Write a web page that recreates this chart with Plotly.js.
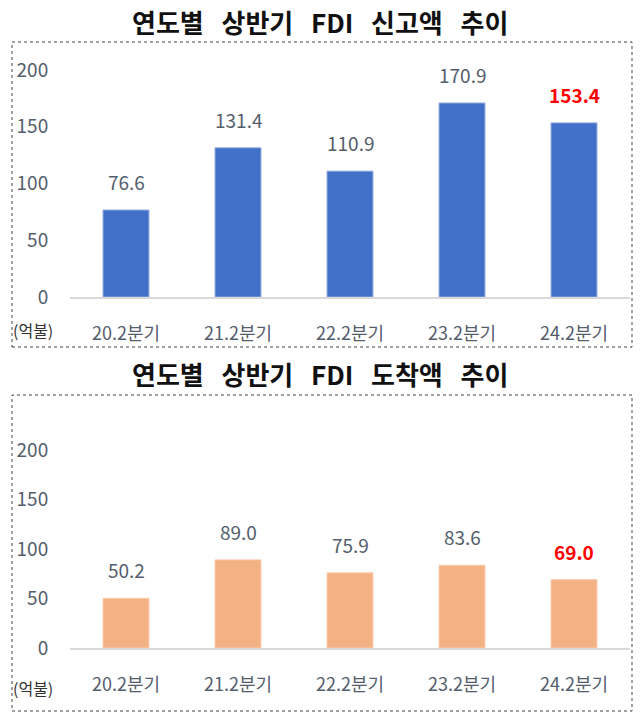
<!DOCTYPE html>
<html>
<head>
<meta charset="utf-8">
<script src="https://cdn.plot.ly/plotly-3.0.1.min.js"></script>
<style>
html,body{margin:0;padding:0;background:#fff;}
#chart{width:641px;height:718px;}
</style>
</head>
<body>
<div id="chart"></div>
<script>
const categories = ["20.2분기", "21.2분기", "22.2분기", "23.2분기", "24.2분기"];
const reportedValues = [76.6, 131.4, 110.9, 170.9, 153.4];
const arrivedValues = [50.2, 89.0, 75.9, 83.6, 69.0];
const yTicks = [0, 50, 100, 150, 200];
const gap = "\u00a0\u00a0\u00a0";
const title1 = ["연도별", "상반기", "FDI", "신고액", "추이"].join(gap);
const title2 = ["연도별", "상반기", "FDI", "도착액", "추이"].join(gap);
const unitLabel = "(억불)";

const W = 641, H = 718;
const px = v => v / W;
const py = v => 1 - v / H;

const fontFam = "'Noto Sans CJK KR', 'Noto Sans', sans-serif";
const labelGray = "#545e6c";

const traces = [
  {type: "bar", x: categories, y: reportedValues, xaxis: "x", yaxis: "y",
   marker: {color: "#4170c8", line: {color: "#8ea9db", width: 1}}, hoverinfo: "x+y"},
  {type: "bar", x: categories, y: arrivedValues, xaxis: "x2", yaxis: "y2",
   marker: {color: "#f4b183", line: {color: "#f8cbad", width: 1}}, hoverinfo: "x+y"}
];

function valueAnnots(vals, xa, ya) {
  return vals.map((v, i) => {
    const last = i === vals.length - 1;
    return {
      x: categories[i], y: v, xref: xa, yref: ya,
      text: last ? "<b>" + v.toFixed(1) + "</b>" : v.toFixed(1),
      showarrow: false, yanchor: "bottom", yshift: 13,
      font: {family: fontFam, size: 19, color: last ? "#ff0000" : labelGray}
    };
  });
}

const xaxisBase = {
  type: "category", showgrid: false, zeroline: false,
  showline: true, linecolor: "#d9d9d9", linewidth: 1.5,
  ticks: "outside", ticklen: 20, tickcolor: "rgba(0,0,0,0)",
  tickfont: {family: fontFam, size: 18, color: labelGray},
  fixedrange: true
};
const yaxisBase = {
  range: [0, 200], tickvals: yTicks, ticktext: yTicks.map(String),
  showgrid: false, zeroline: false, showline: false,
  ticks: "outside", ticklen: 17, tickcolor: "rgba(0,0,0,0)",
  tickfont: {family: fontFam, size: 19, color: labelGray},
  fixedrange: true
};

function txt(x, y, text, size, color) {
  return {xref: "paper", yref: "paper", x: px(x), y: py(y), xanchor: "center", yanchor: "middle",
          text: text, showarrow: false, font: {family: fontFam, size: size, color: color}};
}

const layout = {
  width: W, height: H,
  margin: {l: 0, r: 0, t: 0, b: 0},
  paper_bgcolor: "#ffffff", plot_bgcolor: "rgba(0,0,0,0)",
  showlegend: false, bargap: 0.59,
  xaxis: Object.assign({}, xaxisBase, {domain: [px(70), px(630)], anchor: "y"}),
  yaxis: Object.assign({}, yaxisBase, {domain: [py(297), py(70)], anchor: "x"}),
  xaxis2: Object.assign({}, xaxisBase, {domain: [px(70), px(630)], anchor: "y2"}),
  yaxis2: Object.assign({}, yaxisBase, {domain: [py(648), py(450)], anchor: "x2"}),
  shapes: [
    {type: "rect", xref: "paper", yref: "paper", x0: px(12), x1: px(632), y0: py(347), y1: py(42),
     line: {color: "#444444", width: 1, dash: "dot"}},
    {type: "rect", xref: "paper", yref: "paper", x0: px(12), x1: px(632), y0: py(711), y1: py(395),
     line: {color: "#444444", width: 1, dash: "dot"}}
  ],
  annotations: [
    txt(320, 21, "<b>" + title1 + "</b>", 26, "#111111"),
    txt(320, 373, "<b>" + title2 + "</b>", 26, "#111111"),
    txt(33, 330, unitLabel, 16, "#333333"),
    txt(33, 688, unitLabel, 16, "#333333")
  ].concat(valueAnnots(reportedValues, "x", "y"), valueAnnots(arrivedValues, "x2", "y2"))
};

Plotly.newPlot("chart", traces, layout, {displayModeBar: false, staticPlot: true});
</script>
</body>
</html>
